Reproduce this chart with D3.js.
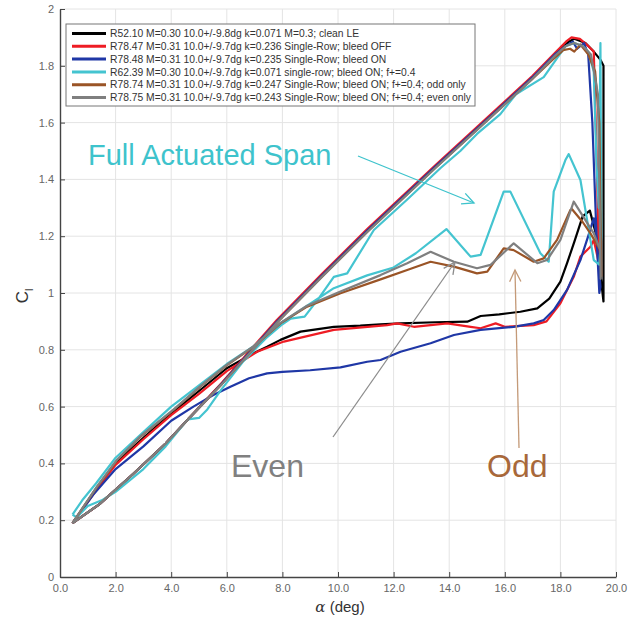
<!DOCTYPE html>
<html>
<head>
<meta charset="utf-8">
<script src="https://cdn.jsdelivr.net/npm/d3@7"></script>
<style>
  body { margin: 0; background: #fff; }
  svg { display: block; font-family: 'Liberation Sans', Arial, sans-serif; }
</style>
</head>
<body>
<svg id="chart"></svg>
<script>
// alpha (deg), Cl pairs - up stroke then down stroke for every run
const cleanLE = [
  [0.45,0.19],[1.4,0.255],[2.6,0.36],[3.8,0.47],[4.6,0.555],[5.83,0.682],[7.8,0.9],[9.4,1.06],
  [11.05,1.22],[13.5,1.445],[15.84,1.656],[17.0,1.76],[17.8,1.84],[18.3,1.885],[18.5,1.895],
  [18.9,1.88],[19.2,1.85],[19.45,1.82],[19.55,1.8],[19.55,0.97],[19.4,1.1],[19.3,1.2],[19.06,1.29],
  [18.8,1.27],[18.5,1.18],[18.24,1.105],[18.0,1.04],[17.6,0.98],[17.4,0.964],[17.17,0.946],
  [16.56,0.934],[15.8,0.925],[15.13,0.919],[14.65,0.899],[13.5,0.897],[12.25,0.893],[11.53,0.89],
  [10.8,0.885],[9.85,0.881],[8.65,0.864],[7.93,0.835],[7.45,0.811],[7.0,0.79],[6.0,0.735],
  [5.0,0.655],[4.0,0.575],[3.0,0.49],[2.0,0.40],[1.3,0.31],[0.45,0.19]
]
const bleedOff = [
  [0.45,0.19],[1.4,0.255],[2.6,0.36],[3.8,0.47],[4.6,0.555],[5.83,0.685],[7.8,0.905],[9.4,1.065],
  [11.05,1.225],[13.5,1.45],[15.84,1.66],[17.0,1.765],[17.8,1.845],[18.2,1.885],[18.4,1.9],
  [18.7,1.895],[19.0,1.87],[19.2,1.85],[19.3,1.5],[19.4,1.02],[19.44,1.08],[19.2,1.187],
  [19.08,1.163],[18.72,1.128],[18.48,1.057],[18.0,0.964],[17.5,0.9],[17.04,0.887],[16.0,0.881],
  [15.67,0.893],[15.13,0.876],[14.77,0.881],[13.93,0.893],[12.73,0.881],[12.13,0.893],[11.77,0.887],
  [9.85,0.870],[8.05,0.829],[7.09,0.793],[6.0,0.725],[5.0,0.645],[4.0,0.57],[3.0,0.485],
  [2.0,0.395],[1.3,0.305],[0.45,0.19]
]
const bleedOn = [
  [0.45,0.19],[1.4,0.255],[2.6,0.36],[3.8,0.47],[4.6,0.555],[5.83,0.682],[7.8,0.9],[9.4,1.06],
  [11.05,1.22],[13.5,1.445],[15.84,1.655],[17.0,1.76],[17.8,1.84],[18.2,1.87],[18.45,1.885],
  [18.6,1.86],[18.85,1.88],[19.0,1.84],[19.15,1.6],[19.3,1.2],[19.4,1.0],[19.44,1.022],
  [19.3,1.2],[19.2,1.263],[19.0,1.2],[18.72,1.116],[18.24,1.011],[17.76,0.94],[17.4,0.905],
  [17.04,0.893],[16.32,0.881],[15.13,0.870],[14.17,0.852],[13.33,0.823],[12.25,0.793],[11.53,0.764],
  [11.05,0.758],[10.09,0.738],[9.0,0.728],[8.0,0.722],[7.45,0.717],[6.8,0.70],[6.13,0.67],
  [5.5,0.64],[4.8,0.60],[4.0,0.55],[3.0,0.46],[2.0,0.38],[1.2,0.29],[0.45,0.19]
]
const fullSpan = [
  [0.45,0.22],[0.6,0.21],[1.0,0.25],[1.5,0.27],[2.0,0.30],[3.0,0.38],[3.8,0.46],[4.3,0.52],
  [4.6,0.555],[5.0,0.56],[5.3,0.59],[5.8,0.66],[6.6,0.76],[7.4,0.84],[8.0,0.89],[8.3,0.91],
  [8.8,0.917],[9.3,0.98],[9.85,1.057],[10.33,1.069],[11.29,1.222],[12.5,1.33],[13.69,1.44],
  [14.4,1.50],[15.0,1.56],[15.84,1.63],[16.4,1.70],[17.4,1.76],[17.9,1.83],[18.2,1.87],
  [18.5,1.88],[18.8,1.87],[19.0,1.85],[19.2,1.78],[19.3,1.45],[19.38,1.3],[19.44,1.88],
  [19.47,1.2],[19.4,1.1],[19.2,1.116],[18.72,1.398],[18.3,1.489],[18.18,1.468],[17.76,1.357],
  [17.58,1.11],[17.28,1.14],[16.2,1.357],[15.96,1.357],[15.13,1.134],[14.77,1.128],[13.9,1.225],
  [12.8,1.14],[12.0,1.09],[11.05,1.062],[9.85,1.017],[8.89,0.955],[7.93,0.893],[6.97,0.813],
  [6.0,0.75],[5.0,0.675],[4.0,0.6],[3.0,0.51],[2.0,0.42],[1.3,0.33],[0.8,0.27],[0.45,0.22]
]
const oddOnly = [
  [0.45,0.19],[1.4,0.255],[2.6,0.36],[3.8,0.47],[4.6,0.555],[5.83,0.68],[7.8,0.895],[9.4,1.055],
  [11.05,1.215],[13.5,1.44],[15.84,1.65],[17.0,1.755],[17.7,1.82],[18.1,1.855],[18.35,1.86],
  [18.5,1.85],[18.72,1.875],[19.0,1.84],[19.25,1.78],[19.4,1.6],[19.47,1.06],[19.44,1.151],
  [19.08,1.21],[18.8,1.25],[18.42,1.295],[18.36,1.292],[17.88,1.187],[17.4,1.122],[17.04,1.110],
  [16.32,1.151],[15.96,1.157],[15.37,1.075],[15.0,1.069],[14.17,1.093],[13.33,1.110],[12.49,1.081],
  [11.53,1.048],[10.09,0.999],[8.89,0.952],[7.93,0.893],[6.97,0.811],[6.01,0.746],[5.05,0.670],
  [4.09,0.588],[2.9,0.494],[2.06,0.412],[1.34,0.318],[0.45,0.19]
]
const evenOnly = [
  [0.45,0.19],[1.4,0.255],[2.6,0.36],[3.8,0.47],[4.6,0.555],[5.83,0.68],[7.8,0.895],[9.4,1.055],
  [11.05,1.215],[13.5,1.44],[15.84,1.65],[17.0,1.755],[17.8,1.835],[18.2,1.87],[18.5,1.88],
  [18.8,1.87],[19.1,1.84],[19.35,1.7],[19.45,1.05],[19.44,1.15],[19.2,1.21],[18.48,1.322],
  [18.0,1.187],[17.52,1.116],[17.17,1.105],[16.32,1.175],[15.49,1.099],[15.0,1.087],[14.17,1.110],
  [13.33,1.145],[12.49,1.105],[11.53,1.063],[10.09,1.005],[8.89,0.955],[7.93,0.895],[6.97,0.813],
  [6.01,0.748],[5.05,0.672],[4.09,0.59],[2.9,0.496],[2.06,0.414],[1.34,0.32],[0.45,0.19]
]

const seriesLabels = [
  'R52.10 M=0.30 10.0+/-9.8dg k=0.071 M=0.3; clean LE',
  'R78.47 M=0.31 10.0+/-9.7dg k=0.236 Single-Row; bleed OFF',
  'R78.48 M=0.31 10.0+/-9.7dg k=0.235 Single-Row; bleed ON',
  'R62.39 M=0.30 10.0+/-9.7dg k=0.071 single-row; bleed ON; f+=0.4',
  'R78.74 M=0.31 10.0+/-9.7dg k=0.247 Single-Row; bleed ON; f+=0.4; odd only',
  'R78.75 M=0.31 10.0+/-9.7dg k=0.243 Single-Row; bleed ON; f+=0.4; even only'
]

const xTicks = [0, 2, 4, 6, 8, 10, 12, 14, 16, 18, 20]
const yTicks = [0, 0.2, 0.4, 0.6, 0.8, 1, 1.2, 1.4, 1.6, 1.8, 2]
const yTickLabels = ['0', '0.2', '0.4', '0.6', '0.8', '1', '1.2', '1.4', '1.6', '1.8', '2']

const width = 639
const height = 622

const svg = d3.select('#chart')
  .attr('width', width)
  .attr('height', height)

const x = d3.scaleLinear().domain([0, 20]).range([60, 616])
const y = d3.scaleLinear().domain([0, 2]).range([577, 9])

// grid
svg.append('g').selectAll('line')
  .data(xTicks.slice(1))
  .enter().append('line')
  .attr('x1', d => x(d)).attr('x2', d => x(d))
  .attr('y1', y(0)).attr('y2', y(2))
  .style('stroke', '#e4e4e4')
svg.append('g').selectAll('line')
  .data(yTicks.slice(1))
  .enter().append('line')
  .attr('x1', x(0)).attr('x2', x(20))
  .attr('y1', d => y(d)).attr('y2', d => y(d))
  .style('stroke', '#e4e4e4')

// axes
const xAxis = svg.append('g')
  .attr('transform', `translate(0,${y(0)})`)
  .call(d3.axisBottom(x).tickValues(xTicks).tickFormat(d3.format('.1f'))
    .tickSizeInner(-5).tickSizeOuter(0).tickPadding(7))
const yAxis = svg.append('g')
  .attr('transform', `translate(${x(0)},0)`)
  .call(d3.axisLeft(y).tickValues(yTicks).tickFormat((d, i) => yTickLabels[i])
    .tickSizeInner(-5).tickSizeOuter(0).tickPadding(6))

;[xAxis, yAxis].forEach(a => {
  a.select('.domain').style('stroke', '#444').style('stroke-width', 1.4)
  a.selectAll('.tick line').style('stroke', '#444')
  a.selectAll('.tick text')
    .style('font-size', '11px')
    .style('fill', '#666')
    .style('font-family', "'Liberation Sans', Arial, sans-serif")
})

// axis titles
svg.append('text')
  .attr('x', 340).attr('y', 612)
  .attr('text-anchor', 'middle')
  .style('font-size', '15px')
  .style('fill', '#333')
  .html('<tspan style="font-family:\'DejaVu Serif\', serif; font-style:italic">α</tspan> (deg)')

svg.append('text')
  .attr('transform', 'translate(28,296) rotate(-90)')
  .attr('text-anchor', 'middle')
  .style('font-size', '17px')
  .style('fill', '#333')
  .html('C<tspan dy="5" style="font-size:11px">l</tspan>')

// curves
const series = [
  { data: cleanLE, color: '#000000' },
  { data: bleedOff, color: '#ee1c24' },
  { data: bleedOn, color: '#1f37a6' },
  { data: fullSpan, color: '#44c4d0' },
  { data: oddOnly, color: '#9a5426' },
  { data: evenOnly, color: '#7f7f7f' }
]

const line = d3.line()
  .x(d => x(d[0]))
  .y(d => y(d[1]))

svg.append('g').selectAll('path')
  .data(series)
  .enter().append('path')
  .attr('d', d => line(d.data))
  .style('fill', 'none')
  .style('stroke', d => d.color)
  .style('stroke-width', 2.2)
  .style('stroke-linejoin', 'round')

// legend
const legend = svg.append('g')
legend.append('rect')
  .attr('x', 66).attr('y', 24)
  .attr('width', 409).attr('height', 82)
  .style('fill', '#fff')
  .style('stroke', '#777')
  .style('stroke-width', 1)

const rows = legend.selectAll('g.row')
  .data(series)
  .enter().append('g')
  .attr('class', 'row')
  .attr('transform', (d, i) => `translate(0,${33.5 + i * 12.8})`)
rows.append('line')
  .attr('x1', 72).attr('x2', 106)
  .style('stroke', d => d.color)
  .style('stroke-width', 3)
rows.append('text')
  .attr('x', 110).attr('dy', '0.35em')
  .style('font-size', '10.3px')
  .style('fill', '#333')
  .text((d, i) => seriesLabels[i])

// annotations
function arrow (x1, y1, x2, y2, color) {
  const g = svg.append('g').style('stroke', color).style('stroke-width', 1.3).style('fill', 'none')
  g.append('line').attr('x1', x1).attr('y1', y1).attr('x2', x2).attr('y2', y2)
  const ang = Math.atan2(y2 - y1, x2 - x1)
  const len = 13
  const spread = 0.45
  g.append('polyline')
    .attr('points', [
      [x2 - len * Math.cos(ang - spread), y2 - len * Math.sin(ang - spread)],
      [x2, y2],
      [x2 - len * Math.cos(ang + spread), y2 - len * Math.sin(ang + spread)]
    ].map(p => p.join(',')).join(' '))
}

svg.append('text')
  .attr('x', 88).attr('y', 165)
  .style('font-size', '29px')
  .style('fill', '#3ec3cc')
  .text('Full Actuated Span')
arrow(358, 156, 474, 203, '#3ec3cc')

svg.append('text')
  .attr('x', 231).attr('y', 477)
  .style('font-size', '32px')
  .style('fill', '#808080')
  .text('Even')
arrow(333, 437, 455, 262, '#8c8c8c')

svg.append('text')
  .attr('x', 487).attr('y', 477)
  .style('font-size', '32px')
  .style('fill', '#a8683a')
  .text('Odd')
arrow(519, 448, 515, 270, '#c49a78')
</script>
</body>
</html>
